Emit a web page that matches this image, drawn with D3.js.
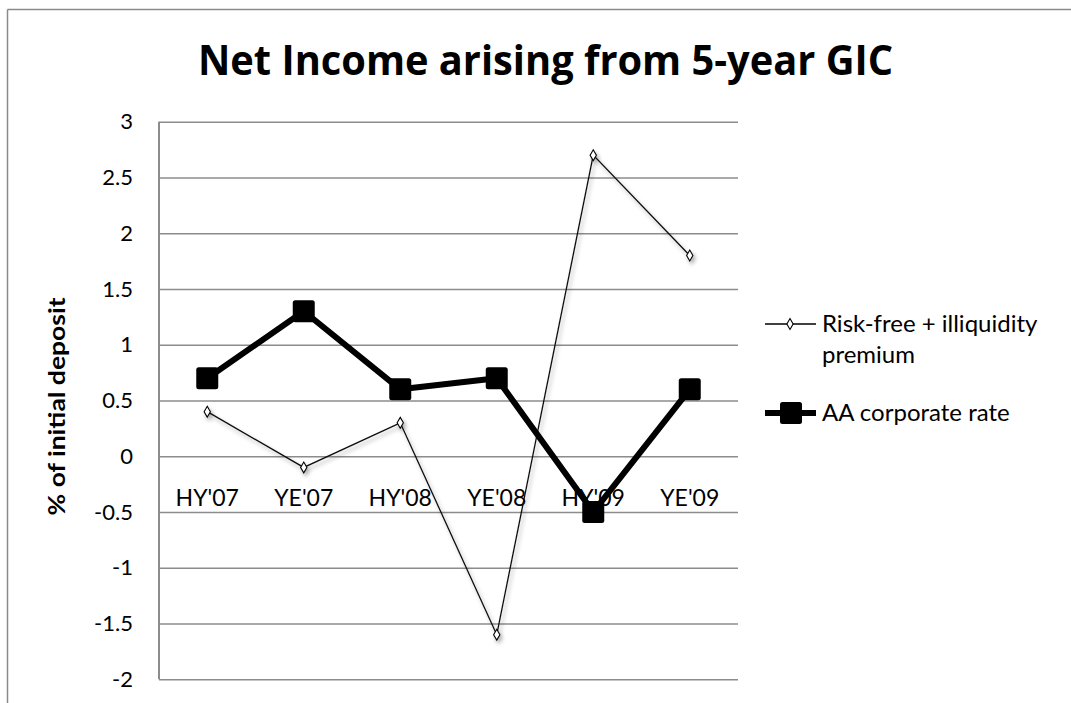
<!DOCTYPE html>
<html>
<head>
<meta charset="utf-8">
<script src="https://cdn.jsdelivr.net/npm/d3@7"></script>
<style>
  html, body { margin: 0; padding: 0; background: #fff; }
  svg text { font-family: Lato, "Open Sans", sans-serif; fill: #000; }
</style>
</head>
<body>
<svg id="chart" width="1071" height="703"></svg>
<script>
const categories = ["HY'07", "YE'07", "HY'08", "YE'08", "HY'09", "YE'09"];
const riskFree = [0.4, -0.1, 0.3, -1.6, 2.7, 1.8];
const aaCorporate = [0.7, 1.3, 0.6, 0.7, -0.5, 0.6];
const yTicks = [-2, -1.5, -1, -0.5, 0, 0.5, 1, 1.5, 2, 2.5, 3];
const seriesNames = ["Risk-free + illiquidity premium", "AA corporate rate"];
const titleText = "Net Income arising from 5-year GIC";
const yAxisTitle = "% of initial deposit";

const svg = d3.select("#chart");
const W = 1071, H = 703;
const plot = { left: 159, right: 738, top: 121.7, bottom: 679.3 };

const x = d3.scaleBand().domain(categories).range([plot.left, plot.right]);
const y = d3.scaleLinear().domain([-2, 3]).range([plot.bottom, plot.top]);
const cx = d => x(d) + x.bandwidth() / 2;

// outer border (top + left visible)
svg.append("line").attr("x1", 7.5).attr("x2", W).attr("y1", 9.5).attr("y2", 9.5)
  .attr("stroke", "#8a8a8a").attr("stroke-width", 1.5);
svg.append("line").attr("x1", 7.5).attr("x2", 7.5).attr("y1", 9.5).attr("y2", H)
  .attr("stroke", "#8a8a8a").attr("stroke-width", 1.5);

// drop shadow filter
const defs = svg.append("defs");
const f = defs.append("filter").attr("id", "shadow").attr("x", "-10%").attr("y", "-10%")
  .attr("width", "130%").attr("height", "130%");
f.append("feGaussianBlur").attr("in", "SourceAlpha").attr("stdDeviation", 2).attr("result", "b");
f.append("feOffset").attr("in", "b").attr("dx", 2).attr("dy", 3).attr("result", "o");
f.append("feComponentTransfer").attr("in", "o").attr("result", "o2")
  .append("feFuncA").attr("type", "linear").attr("slope", 0.35);
const fm = f.append("feMerge");
fm.append("feMergeNode").attr("in", "o2");
fm.append("feMergeNode").attr("in", "SourceGraphic");

// title
const title = svg.append("text")
  .attr("x", 545.5).attr("y", 75)
  .attr("text-anchor", "middle")
  .style("font-family", "'Open Sans', Lato, sans-serif")
  .style("font-weight", "bold").style("font-size", "41px")
  .text(titleText);
title.attr("textLength", 695).attr("lengthAdjust", "spacingAndGlyphs");

// gridlines
const fmtTick = d => String(d);
const yAxisG = svg.append("g").attr("transform", `translate(${plot.left},0)`)
  .call(d3.axisLeft(y).tickValues(yTicks).tickSize(-(plot.right - plot.left)).tickPadding(26)
    .tickFormat(fmtTick));
yAxisG.select(".domain").remove();
yAxisG.selectAll(".tick line").attr("stroke", "#8c8c8c").attr("stroke-width", 1.5);
yAxisG.selectAll(".tick text")
  .style("font-family", "Lato, sans-serif").style("font-size", "22px").attr("fill", "#000");

// left axis line
svg.append("line").attr("x1", plot.left).attr("x2", plot.left)
  .attr("y1", plot.top).attr("y2", plot.bottom)
  .attr("stroke", "#8c8c8c").attr("stroke-width", 2);

// y axis title
svg.append("text")
  .attr("transform", `translate(65,${(plot.top + plot.bottom) / 2 + 6}) rotate(-90)`)
  .attr("text-anchor", "middle")
  .style("font-weight", "bold").style("font-size", "23px")
  .attr("textLength", 218).attr("lengthAdjust", "spacingAndGlyphs")
  .text(yAxisTitle);

// category labels
const xAxisG = svg.append("g").attr("transform", `translate(0,${y(0)})`)
  .call(d3.axisBottom(x).tickSize(0).tickPadding(33));
xAxisG.select(".domain").remove();
xAxisG.selectAll(".tick text")
  .style("font-family", "Lato, sans-serif").style("font-size", "23px").attr("fill", "#000");

// risk-free line
const lineGen = d3.line().x((d, i) => cx(categories[i])).y(d => y(d));
const rf = svg.append("g").attr("filter", "url(#shadow)");
rf.append("path").datum(riskFree).attr("d", lineGen)
  .attr("fill", "none").attr("stroke", "#111").attr("stroke-width", 1.3);
const diamond = d3.symbol().type(d3.symbolDiamond).size(34);
rf.selectAll(".rfm").data(riskFree).enter().append("path")
  .attr("transform", (d, i) => `translate(${cx(categories[i])},${y(d)})`)
  .attr("d", diamond).attr("fill", "#fff").attr("stroke", "#000").attr("stroke-width", 1.1);

// AA corporate line
svg.append("path").datum(aaCorporate).attr("d", lineGen)
  .attr("fill", "none").attr("stroke", "#000").attr("stroke-width", 6)
  .attr("stroke-linejoin", "round");
const sq = 22;
svg.selectAll(".aam").data(aaCorporate).enter().append("rect")
  .attr("x", (d, i) => cx(categories[i]) - sq / 2).attr("y", d => y(d) - sq / 2)
  .attr("width", sq).attr("height", sq).attr("rx", 2.5).attr("fill", "#000");

// legend
const lg = svg.append("g");
const legFont = "24px";
lg.append("line").attr("x1", 765).attr("x2", 816).attr("y1", 324).attr("y2", 324)
  .attr("stroke", "#000").attr("stroke-width", 1.5);
lg.append("path").attr("transform", "translate(790,324)").attr("d", diamond)
  .attr("fill", "#fff").attr("stroke", "#000").attr("stroke-width", 1.1);
lg.append("text").attr("x", 822).attr("y", 324).attr("dy", "0.35em")
  .style("font-size", legFont).text("Risk-free + illiquidity");
lg.append("text").attr("x", 822).attr("y", 355).attr("dy", "0.35em")
  .style("font-size", legFont).text("premium");
lg.append("line").attr("x1", 765).attr("x2", 816).attr("y1", 413).attr("y2", 413)
  .attr("stroke", "#000").attr("stroke-width", 6);
lg.append("rect").attr("x", 780).attr("y", 402).attr("width", sq).attr("height", sq)
  .attr("rx", 2.5).attr("fill", "#000");
lg.append("text").attr("x", 822).attr("y", 413).attr("dy", "0.35em")
  .style("font-size", legFont).text(seriesNames[1]);
</script>
</body>
</html>
